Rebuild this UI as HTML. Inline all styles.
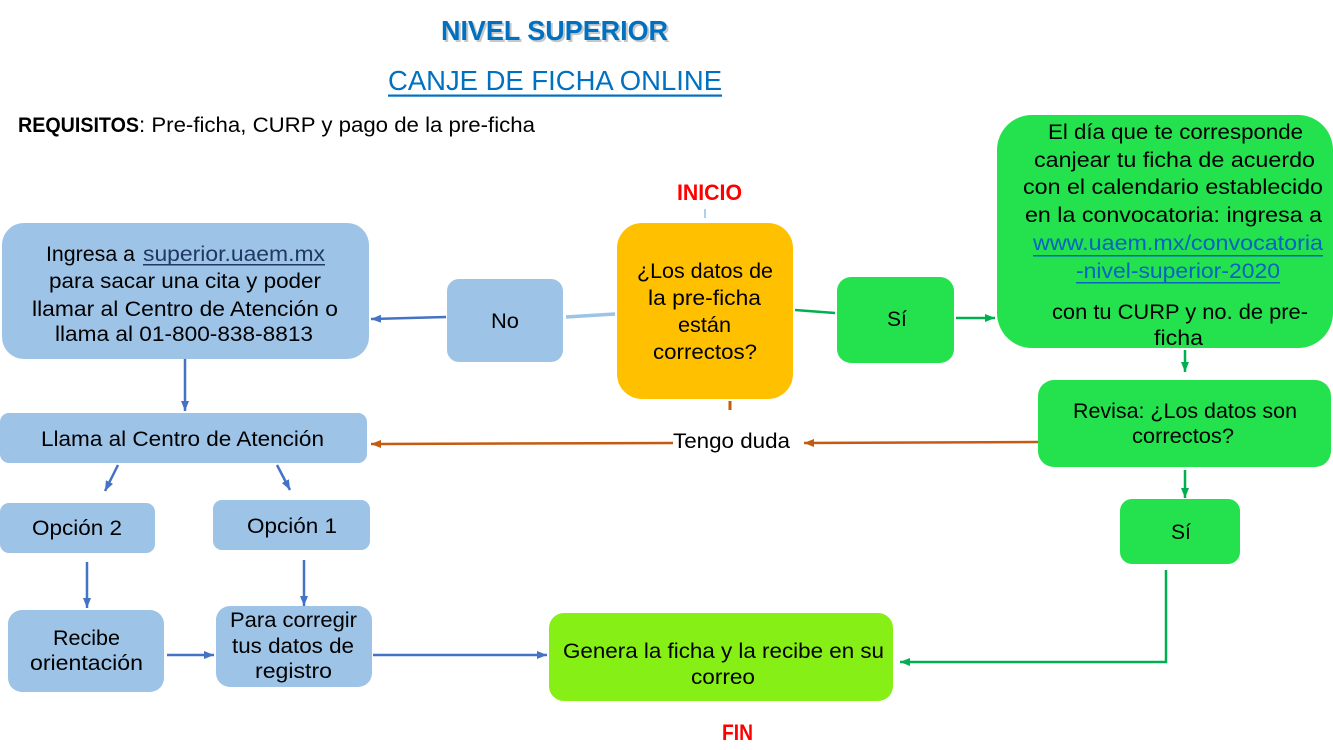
<!DOCTYPE html>
<html><head><meta charset="utf-8"><style>
html,body{margin:0;padding:0;background:#fff;width:1333px;height:750px;overflow:hidden}
svg{display:block}
text{font-family:"Liberation Sans",Arial,sans-serif;font-size:21px;fill:#000}
.b{font-weight:bold}
</style></head><body>
<svg width="1333" height="750" viewBox="0 0 1333 750" xmlns="http://www.w3.org/2000/svg">
<defs>
<marker id="mb" markerWidth="10" markerHeight="8" refX="10" refY="4" orient="auto" markerUnits="userSpaceOnUse"><path d="M0,0 L10,4 L0,8z" fill="#4472C4"/></marker>
<marker id="mg" markerWidth="10" markerHeight="8" refX="10" refY="4" orient="auto" markerUnits="userSpaceOnUse"><path d="M0,0 L10,4 L0,8z" fill="#00B050"/></marker>
<marker id="mo" markerWidth="10" markerHeight="8" refX="10" refY="4" orient="auto" markerUnits="userSpaceOnUse"><path d="M0,0 L10,4 L0,8z" fill="#C55A11"/></marker>
</defs>

<!-- Titles -->
<text x="443" y="42" class="b" style="font-size:28px;fill:#9a9a9a;opacity:.55" textLength="227" lengthAdjust="spacingAndGlyphs">NIVEL SUPERIOR</text>
<text x="441" y="40" class="b" style="font-size:28px;fill:#0070C0" textLength="227" lengthAdjust="spacingAndGlyphs">NIVEL SUPERIOR</text>
<text x="388" y="90" style="font-size:28px;fill:#0070C0" textLength="334" lengthAdjust="spacingAndGlyphs">CANJE DE FICHA ONLINE</text>
<rect x="388" y="94.5" width="334" height="2.2" fill="#0070C0"/>
<text x="18" y="132" class="b" textLength="121" lengthAdjust="spacingAndGlyphs">REQUISITOS</text>
<text x="139" y="132" textLength="396" lengthAdjust="spacingAndGlyphs">: Pre-ficha, CURP y pago de la pre-ficha</text>
<text x="677" y="200" class="b" style="font-size:22px;fill:#FF0000" textLength="65" lengthAdjust="spacingAndGlyphs">INICIO</text>
<text x="722" y="740" class="b" style="font-size:22px;fill:#FF0000" textLength="31" lengthAdjust="spacingAndGlyphs">FIN</text>

<!-- Boxes -->
<rect x="2" y="223" width="367" height="136" rx="22" fill="#9DC3E6"/>
<rect x="447" y="279" width="116" height="83" rx="12" fill="#9DC3E6"/>
<rect x="617" y="223" width="176" height="176" rx="25" fill="#FFC000"/>
<rect x="837" y="277" width="117" height="86" rx="14" fill="#23E24E"/>
<rect x="997" y="115" width="336" height="233" rx="35" fill="#23E24E"/>
<rect x="1038" y="380" width="293" height="87" rx="16" fill="#23E24E"/>
<rect x="1120" y="499" width="120" height="65" rx="12" fill="#23E24E"/>
<rect x="0" y="413" width="367" height="50" rx="9" fill="#9DC3E6"/>
<rect x="0" y="503" width="155" height="50" rx="9" fill="#9DC3E6"/>
<rect x="213" y="500" width="157" height="50" rx="9" fill="#9DC3E6"/>
<rect x="8" y="610" width="156" height="82" rx="14" fill="#9DC3E6"/>
<rect x="216" y="606" width="156" height="81" rx="14" fill="#9DC3E6"/>
<rect x="549" y="613" width="344" height="88" rx="15" fill="#86EF15"/>

<!-- Connectors -->
<g fill="none" stroke-width="2.5">
<path d="M446,317 L371,319" stroke="#4472C4" marker-end="url(#mb)"/>
<path d="M185,359 L185,411" stroke="#4472C4" marker-end="url(#mb)"/>
<path d="M118,465 L105,491" stroke="#4472C4" marker-end="url(#mb)"/>
<path d="M277,465 L290,490" stroke="#4472C4" marker-end="url(#mb)"/>
<path d="M87,562 L87,608" stroke="#4472C4" marker-end="url(#mb)"/>
<path d="M304,560 L304,606" stroke="#4472C4" marker-end="url(#mb)"/>
<path d="M167,655 L214,655" stroke="#4472C4" marker-end="url(#mb)"/>
<path d="M373,655 L547,655" stroke="#4472C4" marker-end="url(#mb)"/>
<path d="M566,317 L615,314" stroke="#9DC3E6" stroke-width="3.5"/>
<path d="M705,209 L705,218" stroke="#9DC3E6" stroke-width="1.6"/>
<path d="M795,310 L835,313" stroke="#00B050"/>
<path d="M956,318 L995,318" stroke="#00B050" marker-end="url(#mg)"/>
<path d="M1185,350 L1185,372" stroke="#00B050" marker-end="url(#mg)"/>
<path d="M1185,470 L1185,498" stroke="#00B050" marker-end="url(#mg)"/>
<path d="M1166,570 L1166,662 L900,662" stroke="#00B050" marker-end="url(#mg)"/>
<path d="M1038,442 L804,443" stroke="#C55A11" marker-end="url(#mo)"/>
<path d="M673,443 L371,444" stroke="#C55A11" marker-end="url(#mo)"/>
<path d="M730,401 L730,410" stroke="#C55A11" stroke-width="3"/>
</g>

<!-- Box texts -->
<text x="46" y="261" textLength="89" lengthAdjust="spacingAndGlyphs">Ingresa a</text>
<text x="143" y="261" style="fill:#1F3864" textLength="182" lengthAdjust="spacingAndGlyphs">superior.uaem.mx</text>
<rect x="143" y="264" width="182" height="1.5" fill="#1F3864"/>
<text x="49" y="288" textLength="272" lengthAdjust="spacingAndGlyphs">para sacar una cita y poder</text>
<text x="32" y="316" textLength="306" lengthAdjust="spacingAndGlyphs">llamar al Centro de Atención o</text>
<text x="55" y="341" textLength="258" lengthAdjust="spacingAndGlyphs">llama al 01-800-838-8813</text>

<text x="491" y="328" textLength="28" lengthAdjust="spacingAndGlyphs">No</text>

<text x="637" y="278" textLength="136" lengthAdjust="spacingAndGlyphs">¿Los datos de</text>
<text x="648" y="305" textLength="113" lengthAdjust="spacingAndGlyphs">la pre-ficha</text>
<text x="678" y="332" textLength="53" lengthAdjust="spacingAndGlyphs">están</text>
<text x="653" y="359" textLength="104" lengthAdjust="spacingAndGlyphs">correctos?</text>

<text x="887" y="326">Sí</text>

<text x="1048" y="139" textLength="255" lengthAdjust="spacingAndGlyphs">El día que te corresponde</text>
<text x="1034" y="167" textLength="281" lengthAdjust="spacingAndGlyphs">canjear tu ficha de acuerdo</text>
<text x="1023" y="194" textLength="300" lengthAdjust="spacingAndGlyphs">con el calendario establecido</text>
<text x="1025" y="222" textLength="297" lengthAdjust="spacingAndGlyphs">en la convocatoria: ingresa a</text>
<text x="1033" y="250" style="fill:#0563C1" textLength="290" lengthAdjust="spacingAndGlyphs">www.uaem.mx/convocatoria</text>
<rect x="1033" y="255" width="290" height="1.5" fill="#0563C1"/>
<text x="1076" y="278" style="fill:#0563C1" textLength="204" lengthAdjust="spacingAndGlyphs">-nivel-superior-2020</text>
<rect x="1076" y="282" width="204" height="1.5" fill="#0563C1"/>
<text x="1052" y="319" textLength="256" lengthAdjust="spacingAndGlyphs">con tu CURP y no. de pre-</text>
<text x="1154" y="345" textLength="49" lengthAdjust="spacingAndGlyphs">ficha</text>

<text x="1073" y="418" textLength="224" lengthAdjust="spacingAndGlyphs">Revisa: ¿Los datos son</text>
<text x="1132" y="443" textLength="102" lengthAdjust="spacingAndGlyphs">correctos?</text>

<text x="1171" y="539">Sí</text>

<text x="673" y="448" textLength="117" lengthAdjust="spacingAndGlyphs">Tengo duda</text>

<text x="41" y="446" textLength="283" lengthAdjust="spacingAndGlyphs">Llama al Centro de Atención</text>
<text x="32" y="535" textLength="90" lengthAdjust="spacingAndGlyphs">Opción 2</text>
<text x="247" y="533" textLength="90" lengthAdjust="spacingAndGlyphs">Opción 1</text>
<text x="53" y="645" textLength="67" lengthAdjust="spacingAndGlyphs">Recibe</text>
<text x="30" y="670" textLength="113" lengthAdjust="spacingAndGlyphs">orientación</text>
<text x="230" y="627" textLength="127" lengthAdjust="spacingAndGlyphs">Para corregir</text>
<text x="232" y="653" textLength="122" lengthAdjust="spacingAndGlyphs">tus datos de</text>
<text x="255" y="678" textLength="77" lengthAdjust="spacingAndGlyphs">registro</text>
<text x="563" y="658" textLength="321" lengthAdjust="spacingAndGlyphs">Genera la ficha y la recibe en su</text>
<text x="691" y="684" textLength="64" lengthAdjust="spacingAndGlyphs">correo</text>
</svg>
</body></html>
